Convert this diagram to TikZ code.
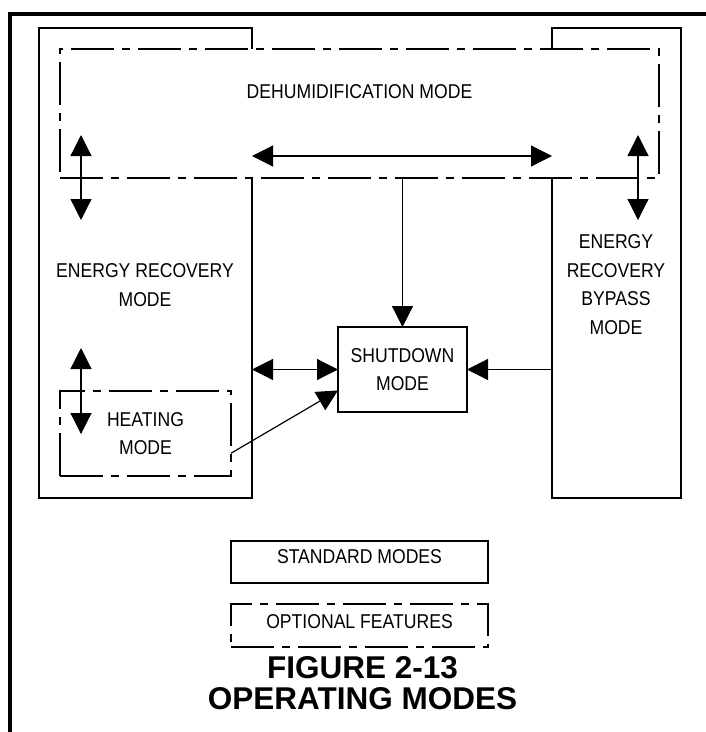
\documentclass[tikz,border=0pt]{standalone}
\usepackage{fontspec}
\newfontfamily\labelfont[FakeStretch=0.88]{Liberation Sans}
\newfontfamily\titlefont{Liberation Sans}
\usetikzlibrary{arrows.meta,positioning,calc}

\begin{document}
\begin{tikzpicture}[x=1pt,y=-1pt,
    modebox/.style={draw,line width=1.2pt,inner sep=0pt,outer sep=0pt},
    optbox/.style={modebox,dash pattern=on 43pt off 8pt on 8pt off 8pt},
    lbl/.style={font=\labelfont\fontsize{20}{28.5}\selectfont,align=center,inner sep=0pt},
    link/.style={line width=1.2pt,-{Triangle[width=21pt,length=21pt]}},
    dlink/.style={line width=1.2pt,{Triangle[width=21pt,length=21pt]}-{Triangle[width=21pt,length=21pt]}}]
        \useasboundingbox (0,0) rectangle (706,732);
        % frame
        \draw[line width=4pt] (10.3,740) -- (10.3,14.3) -- (710,14.3);
        % standard modes
        \node[modebox,minimum width=213,minimum height=470] (er) at (145.5,263) {};
        \node[modebox,minimum width=129,minimum height=470] (bypass) at (616.5,263) {};
        \node[optbox,fill=white,minimum width=599,minimum height=129] (dehumid) at (359.5,113.5) {};
        \node[modebox,lbl,minimum width=129,minimum height=85] (shutdown) at (402.5,369.5) {SHUTDOWN\\MODE};
        \node[optbox,lbl,minimum width=171,minimum height=85] (heating) at (145.5,433.5) {HEATING\\MODE};
        % labels
        \node[lbl] (dehumidlbl) at (359.5,92) {DEHUMIDIFICATION MODE};
        \node[lbl] (erlbl) at (145,285) {ENERGY RECOVERY\\MODE};
        \node[lbl] (bypasslbl) at (616,284.5) {ENERGY\\RECOVERY\\BYPASS\\MODE};
        % arrow ends
        \coordinate (dhl) at (252,156);
        \coordinate (dhr) at (552,156);
        \coordinate (erup) at (81,135);
        \coordinate (erdn) at (81,220);
        \coordinate (bpup) at (638,135);
        \coordinate (bpdn) at (638,220);
        \coordinate (htup) at (81,348);
        \coordinate (htdn) at (81,434);
        \draw[dlink] (dhl) -- (dhr);
        \draw[dlink] (erup) -- (erdn);
        \draw[dlink] (bpup) -- (bpdn);
        \draw[dlink] (htup) -- (htdn);
        \draw[link] (shutdown.north |- dehumid.south) -- (shutdown.north);
        \draw[dlink] (er.east |- shutdown.west) -- (shutdown.west);
        \draw[link] (bypass.west |- shutdown.east) -- (shutdown.east);
        \draw[link] (heating.-13) -- (shutdown.198);
        % legend
        \node[modebox,minimum width=257,minimum height=42] (stdkey) at (359.5,562) {};
        \node[optbox,minimum width=257,minimum height=43] (optkey) at (359.5,625.5) {};
        \node[lbl] (stdlbl) at (359.5,557) {STANDARD MODES};
        \node[lbl] (optlbl) at (359.5,621.5) {OPTIONAL FEATURES};
        \node[align=center,inner sep=0pt,font=\titlefont\bfseries\fontsize{31.5}{30.5}\selectfont] (title) at (362.5,683) {FIGURE 2-13\\OPERATING MODES};
      \end{tikzpicture}
\end{document}
